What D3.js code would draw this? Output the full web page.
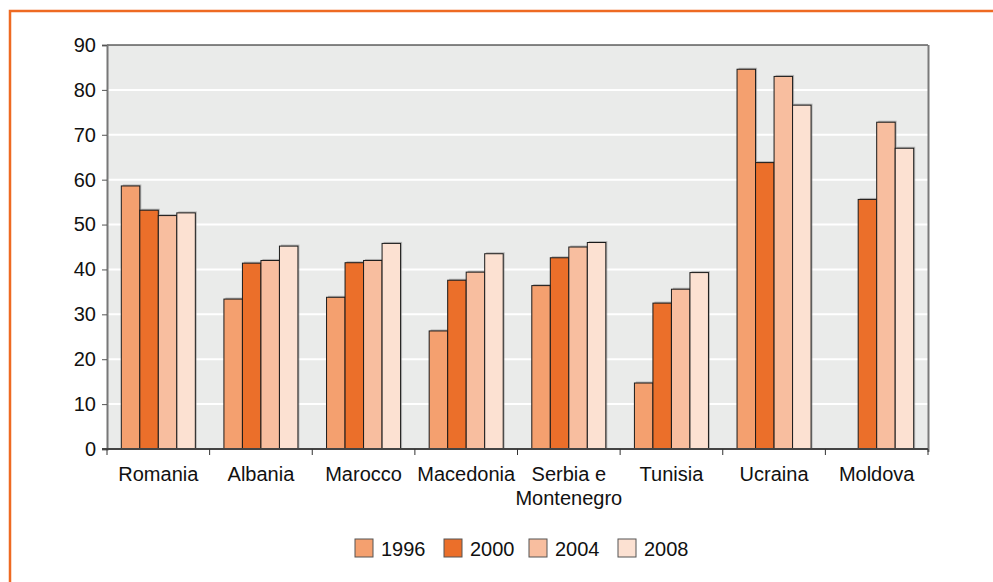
<!DOCTYPE html>
<html><head><meta charset="utf-8">
<script src="https://cdn.jsdelivr.net/npm/d3@7"></script>
<style>
html,body{margin:0;padding:0;background:#fff;}
svg{display:block;font-family:"Liberation Sans",Arial,Helvetica,sans-serif;}
</style></head>
<body>
<svg id="chart" width="993" height="582"></svg>
<script>
const categories = ["Romania","Albania","Marocco","Macedonia","Serbia e\nMontenegro","Tunisia","Ucraina","Moldova"];
const years = ["1996","2000","2004","2008"];
const v1996 = [58.6, 33.4, 33.8, 26.3, 36.4, 14.7, 84.6, null];
const v2000 = [53.2, 41.4, 41.5, 37.6, 42.6, 32.5, 63.8, 55.6];
const v2004 = [52.0, 42.0, 42.0, 39.4, 45.0, 35.6, 83.0, 72.8];
const v2008 = [52.6, 45.2, 45.8, 43.5, 46.0, 39.3, 76.6, 67.0];
const yTicks = [0,10,20,30,40,50,60,70,80,90];
const colors = ["#F4A06F","#EB6F2A","#F8BE9F","#FCE1D2"];

const series = [v1996, v2000, v2004, v2008];
const svg = d3.select("#chart");

// orange frame
svg.append("rect").attr("x",10).attr("y",11).attr("width",1000).attr("height",600)
  .attr("fill","none").attr("stroke","#EE6A22").attr("stroke-width",2.5);

const L = 107, R = 928, T = 45, B = 449;
const x0 = d3.scaleBand().domain(categories).range([L, R]).padding(0);
const inner = 14.3;
const x1 = d3.scaleBand().domain(years).range([inner, x0.bandwidth() - inner]).padding(0);
const y = d3.scaleLinear().domain([0, 90]).range([B, T]);

// plot background
svg.append("rect").attr("x",L).attr("y",T).attr("width",R-L).attr("height",B-T).attr("fill","#EAEBEA");
// gridlines
svg.append("g").selectAll("line").data(yTicks.filter(t=>t>0 && t<90)).join("line")
  .attr("x1",L).attr("x2",R).attr("y1",d=>y(d)).attr("y2",d=>y(d))
  .attr("stroke","#fff").attr("stroke-width",2);
// top and right border
svg.append("line").attr("x1",L).attr("x2",R).attr("y1",T).attr("y2",T).attr("stroke","#111").attr("stroke-width",1);
svg.append("line").attr("x1",R+0.5).attr("x2",R+0.5).attr("y1",T).attr("y2",B+3).attr("stroke","#7a7a7a").attr("stroke-width",2);

// bars
const data = [];
categories.forEach((c,i)=>years.forEach((yr,j)=>{ if(series[j][i]!=null) data.push({c, yr, j, v: series[j][i]}); }));
const gb = svg.append("g");
// shadows
gb.selectAll("rect.sh").data(data).join("rect").attr("class","sh")
  .attr("x",d=>x0(d.c)+x1(d.yr)+1.5).attr("y",d=>y(d.v)-1.5)
  .attr("width",x1.bandwidth()).attr("height",d=>B-y(d.v)+1.5)
  .attr("fill","#8a8a8a").attr("opacity",0.55);
gb.selectAll("rect.bar").data(data).join("rect").attr("class","bar")
  .attr("x",d=>x0(d.c)+x1(d.yr)).attr("y",d=>y(d.v))
  .attr("width",x1.bandwidth()).attr("height",d=>B-y(d.v))
  .attr("fill",d=>colors[d.j]).attr("stroke","#1a1a1a").attr("stroke-width",1);

// y axis
const yAxis = d3.axisLeft(y).tickValues(yTicks).tickSize(5).tickPadding(6);
const gy = svg.append("g").attr("transform",`translate(${L},0)`).call(yAxis);
gy.select(".domain").attr("stroke","#777").attr("stroke-width",2);
gy.selectAll(".tick line").attr("stroke","#555");
gy.selectAll(".tick text").attr("font-size",20).attr("fill","#111")
  .attr("font-family","'Liberation Sans',Arial,sans-serif");

// x axis
svg.append("line").attr("x1",L-5).attr("x2",R).attr("y1",B).attr("y2",B).attr("stroke","#444").attr("stroke-width",2);
const bounds = categories.map(c=>x0(c)).concat([R]);
svg.append("g").selectAll("line").data(bounds).join("line")
  .attr("x1",d=>d).attr("x2",d=>d).attr("y1",B).attr("y2",B+6).attr("stroke","#333").attr("stroke-width",1);
const gl = svg.append("g");
categories.forEach(c=>{
  const lines = c.split("\n");
  const t = gl.append("text").attr("x",x0(c)+x0.bandwidth()/2).attr("y",481)
    .attr("text-anchor","middle").attr("font-size",20).attr("fill","#111");
  lines.forEach((ln,k)=>t.append("tspan").attr("x",x0(c)+x0.bandwidth()/2).attr("dy",k===0?0:23.5).text(ln));
});

// legend
const legX = [355, 444, 529, 618];
const lg = svg.append("g");
years.forEach((yr,j)=>{
  lg.append("rect").attr("x",legX[j]).attr("y",539).attr("width",18).attr("height",18)
    .attr("fill",colors[j]).attr("stroke","#555").attr("stroke-width",1);
  lg.append("text").attr("x",legX[j]+26).attr("y",556).attr("font-size",20).attr("fill","#111").text(yr);
});
</script>
</body></html>
